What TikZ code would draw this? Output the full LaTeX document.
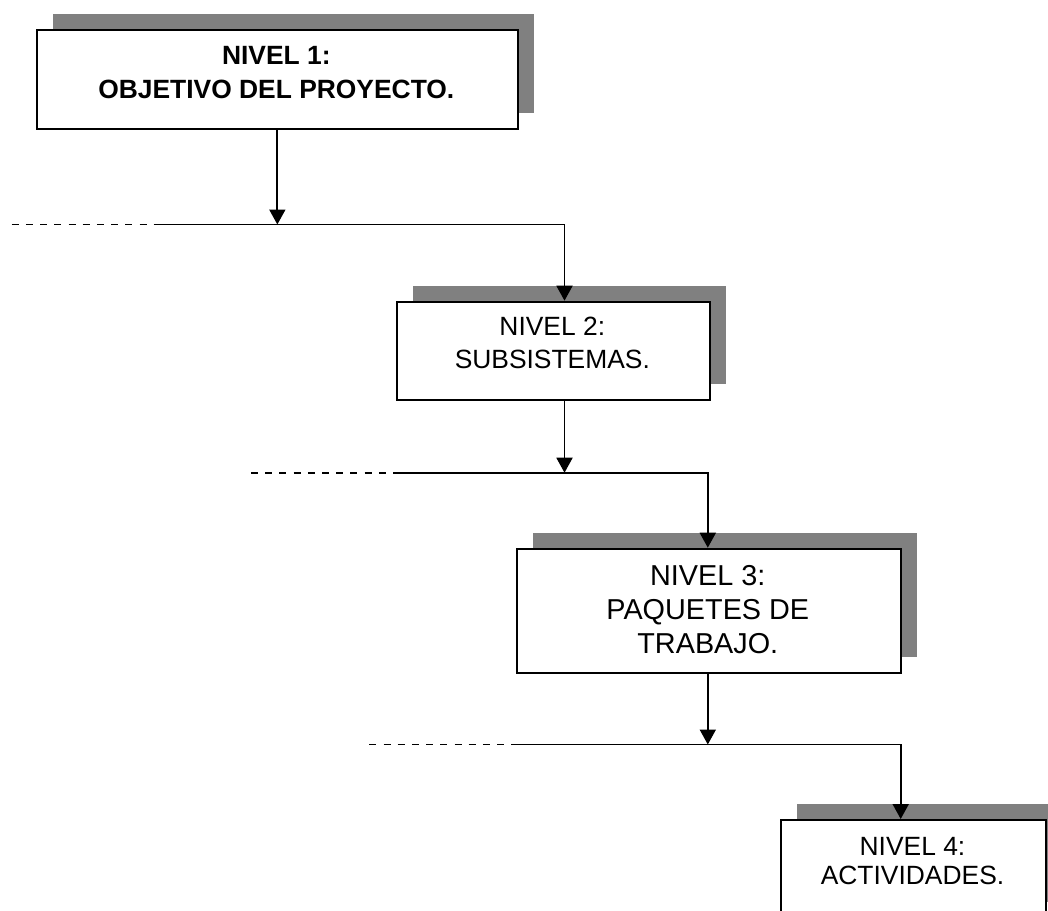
\documentclass[tikz,border=0pt]{standalone}
\usepackage{fontspec}
\setmainfont{Liberation Sans}
\usetikzlibrary{arrows.meta,shadows}
\definecolor{shadowgray}{HTML}{808080}
\tikzset{
  levelbox/.style={draw=black, line width=2pt, fill=white, inner sep=0pt,
    anchor=north west,
    general shadow={fill=shadowgray, shadow xshift=16pt, shadow yshift=16pt}},
  leveltext/.style={anchor=north, inner sep=0pt, align=center},
  link/.style={line width=1.9pt, -{Triangle[width=16pt,length=15pt]}},
  stub/.style={line width=1.7pt, dash pattern=on 7pt off 7.2pt},
}
\begin{document}
\begin{tikzpicture}[x=1pt,y=-1pt]
  \useasboundingbox (0,0) rectangle (1048,910);
  \clip (0,0) rectangle (1048,910);

  % level boxes
  \node[levelbox, minimum width=481.3pt, minimum height=98.4pt] (b1) at (35.7,29.3) {};
  \node[levelbox, minimum width=313.3pt, minimum height=98.3pt] (b2) at (395.7,300.7) {};
  \node[levelbox, minimum width=384.3pt, minimum height=124pt]  (b3) at (515.7,547.7) {};
  \node[levelbox, minimum width=265pt,   minimum height=98pt]   (b4) at (780,819) {};

  % box captions
  \node[leveltext, font=\bfseries\fontsize{26.4}{34.3}\selectfont] (t1) at (276.3,45.7)
    {NIVEL 1:\\OBJETIVO DEL PROYECTO.};
  \node[leveltext, font=\fontsize{26.4}{33.3}\selectfont] (t2) at (552.3,316.7)
    {NIVEL 2:\\SUBSISTEMAS.};
  \node[leveltext, font=\fontsize{28.8}{34.2}\selectfont] (t3) at (707.8,565)
    {NIVEL 3:\\PAQUETES DE\\TRABAJO.};
  \node[leveltext, font=\fontsize{26.4}{29}\selectfont] (t4) at (912.5,836.7)
    {NIVEL 4:\\ACTIVIDADES.};

  % branch lines: dashed stub, solid run, drop to next level
  \coordinate (d1) at (11.7,224.5);  \coordinate (s1) at (155,224.5);
  \coordinate (k2) at (564.5,224.5);
  \coordinate (d2) at (251,472.7);   \coordinate (s2) at (395.7,472.7);
  \coordinate (k3) at (707.8,472.7);
  \coordinate (d3) at (369.3,744.5); \coordinate (s3) at (515,744.5);
  \coordinate (k4) at (900.7,744.5);

  % level 1 -> branch 1 -> level 2
  \draw[link] (b1.south) -- (b1.south |- s1);
  \draw[stub] (d1) -- (s1);
  \draw[link] (s1) -- (k2) -- (k2 |- b2.north);

  % level 2 -> branch 2 -> level 3
  \draw[link] (k2 |- b2.south) -- (k2 |- s2);
  \draw[stub] (d2) -- (s2);
  \draw[link] (s2) -- (k3) -- (k3 |- b3.north);

  % level 3 -> branch 3 -> level 4
  \draw[link] (k3 |- b3.south) -- (k3 |- s3);
  \draw[stub] (d3) -- (s3);
  \draw[link] (s3) -- (k4) -- (k4 |- b4.north);
\end{tikzpicture}
\end{document}
